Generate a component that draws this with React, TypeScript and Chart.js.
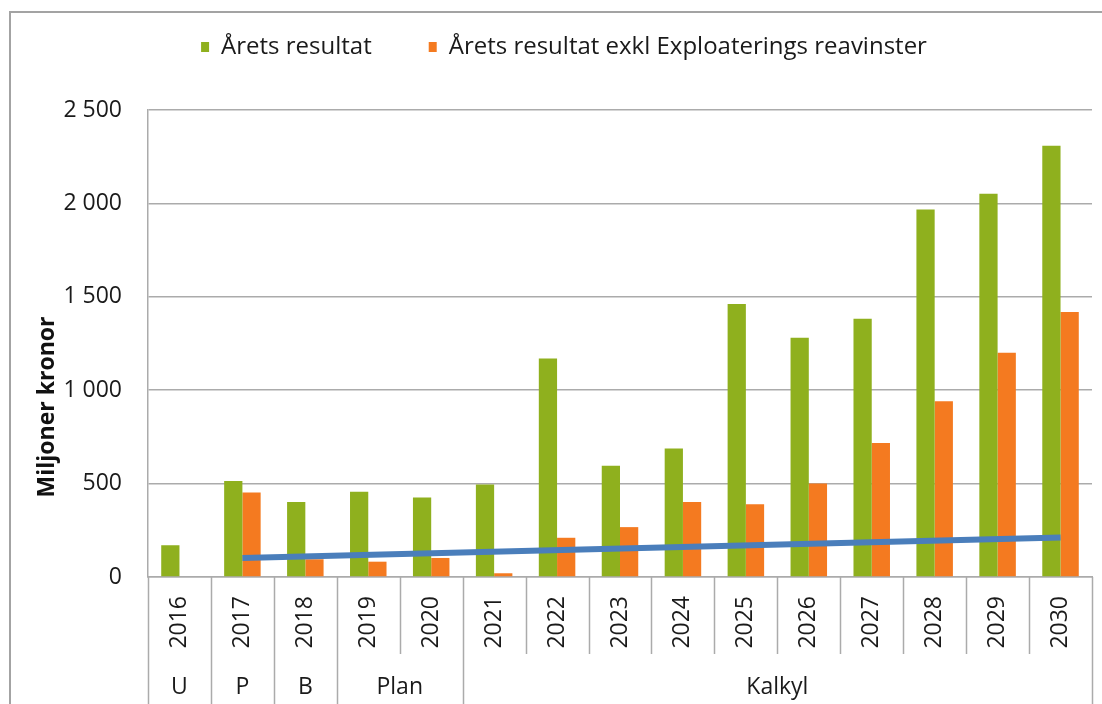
import React, { useEffect, useRef } from "react";
import { Chart, registerables } from "chart.js";

Chart.register(...registerables);

const years = ["2016","2017","2018","2019","2020","2021","2022","2023","2024","2025","2026","2027","2028","2029","2030"];
const aretsResultat = [170, 514, 401, 457, 425, 495, 1170, 595, 688, 1462, 1281, 1382, 1968, 2052, 2308];
const exklReavinster = [null, 452, 95, 82, 102, 20, 210, 267, 401, 389, 500, 717, 941, 1201, 1419];
const trendLine = [null, 102, null, null, null, null, null, null, null, null, null, null, null, null, 212];
const groupLabels = ["U", "P", "B", "Plan", "Kalkyl"];
const groupStart = [0, 1, 2, 3, 5];
const groupEnd = [0, 1, 2, 4, 14];
const yTicks = [0, 500, 1000, 1500, 2000, 2500];

const FONT = "'Open Sans', 'DejaVu Sans', sans-serif";
const GRID = "#ababab";

function fmt(v: number) {
  return String(v).replace(/\B(?=(\d{3})+(?!\d))/g, " ");
}

export default function App() {
  const ref = useRef<HTMLCanvasElement | null>(null);
  useEffect(() => {
    if (!ref.current) return;
    const decorations = {
      id: "decorations",
      beforeInit(chart: any) {
        const lg = chart.legend;
        if (lg) {
          const orig = lg.fit;
          lg.fit = function () {
            orig.call(this);
            this.height = 110;
          };
        }
      },
      afterLayout(chart: any) {
        const lg = chart.legend;
        if (lg) {
          lg.top -= 22;
          lg.bottom -= 22;
          lg.left += 18;
          lg.right += 18;
        }
      },
      beforeDraw(chart: any) {
        const ctx = chart.ctx;
        ctx.save();
        ctx.fillStyle = "#ffffff";
        ctx.fillRect(0, 0, chart.width, chart.height);
        ctx.strokeStyle = "#a3a3a3";
        ctx.lineWidth = 2;
        ctx.beginPath();
        ctx.moveTo(10, chart.height);
        ctx.lineTo(10, 12);
        ctx.lineTo(chart.width, 12);
        ctx.stroke();
        ctx.restore();
      },
      afterDraw(chart: any) {
        const ctx = chart.ctx;
        const xs = chart.scales.x;
        const area = chart.chartArea;
        const half = (xs.getPixelForValue(1) - xs.getPixelForValue(0)) / 2;
        const bottom = area.bottom;
        const longSet = new Set<number>();
        groupStart.forEach((s) => longSet.add(s));
        longSet.add(years.length);
        ctx.save();
        ctx.strokeStyle = GRID;
        ctx.lineWidth = 1.5;
        for (let i = 0; i <= years.length; i++) {
          const bx = i < years.length ? xs.getPixelForValue(i) - half : xs.getPixelForValue(years.length - 1) + half;
          const end = longSet.has(i) ? chart.height : bottom + 77;
          ctx.beginPath();
          ctx.moveTo(Math.round(bx) + 0.5, bottom);
          ctx.lineTo(Math.round(bx) + 0.5, end);
          ctx.stroke();
        }
        ctx.fillStyle = "#1a1a1a";
        ctx.font = `23px ${FONT}`;
        ctx.textAlign = "center";
        ctx.textBaseline = "middle";
        groupLabels.forEach((g, k) => {
          const x0 = xs.getPixelForValue(groupStart[k]) - half;
          const x1 = xs.getPixelForValue(groupEnd[k]) + half;
          ctx.fillText(g, (x0 + x1) / 2, 687);
        });
        ctx.translate(47, (area.top + chart.height) / 2);
        ctx.rotate(-Math.PI / 2);
        ctx.font = `bold 23px ${FONT}`;
        ctx.fillStyle = "#111111";
        ctx.fillText("Miljoner kronor", 0, 0);
        ctx.restore();
      },
    };

    const chart = new Chart(ref.current, {
      type: "bar",
      data: {
        labels: years,
        datasets: [
          {
            type: "line",
            label: "Trend",
            data: trendLine as any,
            borderColor: "#4A7EBB",
            borderWidth: 6,
            pointRadius: 0,
            spanGaps: true,
            order: 0,
          } as any,
          {
            label: "Årets resultat",
            data: aretsResultat,
            backgroundColor: "#8FB01E",
            categoryPercentage: 0.58,
            barPercentage: 1.0,
            order: 1,
          },
          {
            label: "Årets resultat exkl Exploaterings reavinster",
            data: exklReavinster as any,
            backgroundColor: "#F47A20",
            categoryPercentage: 0.58,
            barPercentage: 1.0,
            order: 1,
          },
        ],
      },
      options: {
        responsive: false,
        animation: false,
        devicePixelRatio: 1,
        layout: { padding: { top: 0, left: 0, right: 10, bottom: 0 } },
        plugins: {
          tooltip: { enabled: false },
          legend: {
            position: "top",
            labels: {
              filter: (item: any) => item.datasetIndex > 0,
              boxWidth: 8,
              boxHeight: 10,
              padding: 57,
              color: "#1a1a1a",
              font: { family: FONT, size: 24 },
            },
          },
        },
        scales: {
          x: {
            grid: { display: false, drawTicks: false },
            border: { display: true, color: GRID, width: 1.5 },
            ticks: {
              autoSkip: false,
              maxRotation: 90,
              minRotation: 90,
              padding: 19,
              color: "#1a1a1a",
              font: { family: FONT, size: 23 },
            },
            afterFit: (s: any) => {
              s.height = 127;
              s.paddingLeft = 0;
              s.paddingRight = 0;
            },
          },
          y: {
            min: 0,
            max: 2500,
            afterBuildTicks: (s: any) => {
              s.ticks = yTicks.map((v) => ({ value: v }));
            },
            grid: { color: GRID, lineWidth: 1.5, drawTicks: false },
            border: { display: true, color: GRID, width: 1.5 },
            ticks: {
              padding: 26,
              color: "#1a1a1a",
              font: { family: FONT, size: 23 },
              callback: (v: any) => fmt(Number(v)),
            },
            afterFit: (s: any) => {
              s.width = 148;
              s.paddingTop = 0;
              s.paddingBottom = 0;
            },
          },
        },
      },
      plugins: [decorations],
    });
    return () => chart.destroy();
  }, []);

  return (
    <div style={{ position: "fixed", left: 0, top: 0, width: 1102, height: 704, background: "#fff" }}>
      <canvas ref={ref} width={1102} height={704} style={{ width: 1102, height: 704, display: "block" }} />
    </div>
  );
}
